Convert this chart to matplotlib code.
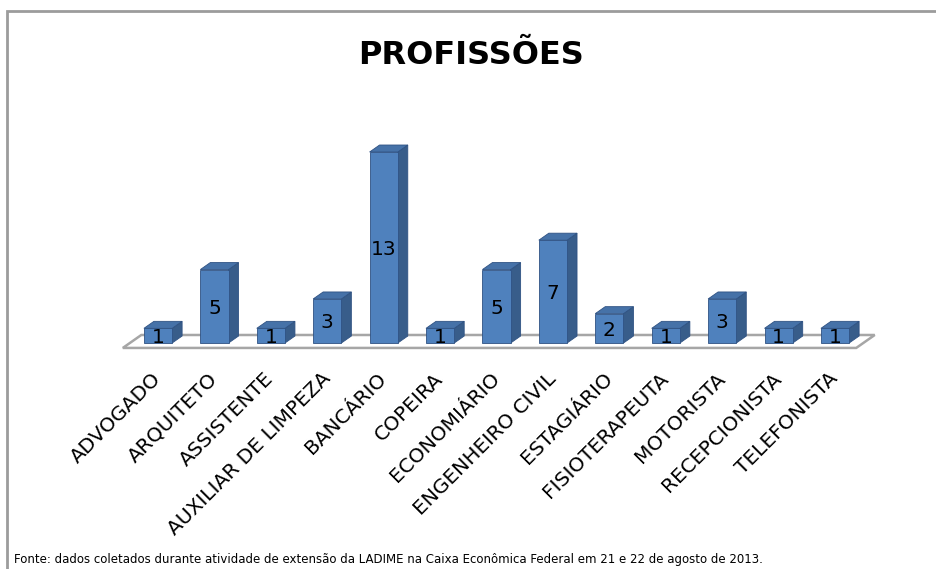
import numpy as np
import matplotlib.pyplot as plt
from matplotlib.patches import Polygon, Rectangle

plt.rcParams['font.family'] = ['DejaVu Sans']

# data
categorias = ['ADVOGADO', 'ARQUITETO', 'ASSISTENTE', 'AUXILIAR DE LIMPEZA',
              'BANCÁRIO', 'COPEIRA', 'ECONOMIÁRIO', 'ENGENHEIRO CIVIL',
              'ESTAGIÁRIO', 'FISIOTERAPEUTA', 'MOTORISTA', 'RECEPCIONISTA',
              'TELEFONISTA']
valores = [1, 5, 1, 3, 13, 1, 5, 7, 2, 1, 3, 1, 1]

titulo = 'PROFISSÕES'
fonte = ('Fonte: dados coletados durante atividade de extensão da LADIME na '
         'Caixa Econômica Federal em 21 e 22 de agosto de 2013.')

# fake 3d look
larg = 0.5
ddx, ddy = 0.177, 0.476
c_frente = '#4F81BD'
c_lado = '#385D8A'
c_topo = '#4672A8'
c_borda = '#2F5283'

fig = plt.figure(figsize=(9.36, 5.69), dpi=100)
ax = fig.add_axes([0.1206, 0.3713, 0.8318, 0.4003])
ax.set_xlim(-0.8, 13.0)
ax.set_ylim(-1, 14.5)

n = len(categorias)
x = np.arange(n)

# floor
f0, f1 = -0.7, 1.15
piso = Polygon([(-0.5 + f0 * ddx, f0 * ddy), (n - 0.5 + f0 * ddx, f0 * ddy),
                (n - 0.5 + f1 * ddx, f1 * ddy), (-0.5 + f1 * ddx, f1 * ddy)],
               closed=True, facecolor='white', edgecolor='#A6A6A6', lw=1.8,
               zorder=1)
ax.add_patch(piso)

ax.bar(x, valores, width=larg, color=c_frente, edgecolor=c_borda, lw=0.6,
       zorder=3)
for xi, v in zip(x, valores):
    d = xi + larg / 2
    e = xi - larg / 2
    lado = Polygon([(d, 0), (d + ddx, ddy), (d + ddx, v + ddy), (d, v)],
                   closed=True, facecolor=c_lado, edgecolor=c_borda, lw=0.6,
                   zorder=2)
    topo = Polygon([(e, v), (d, v), (d + ddx, v + ddy), (e + ddx, v + ddy)],
                   closed=True, facecolor=c_topo, edgecolor=c_borda, lw=0.6,
                   zorder=2)
    ax.add_patch(lado)
    ax.add_patch(topo)
    ax.text(xi, v / 2, str(v), ha='center', va='center_baseline',
            fontsize=14.5, color='black', zorder=4)

ax.set_xticks(x)
ax.set_xticklabels(categorias, rotation=45, ha='right', va='center',
                   rotation_mode='anchor', fontsize=14.5)
ax.tick_params(axis='x', length=0, pad=13)
ax.set_yticks([])
for s in ax.spines.values():
    s.set_visible(False)
ax.patch.set_alpha(0)

fig.text(471 / 936, 1 - 55 / 569, titulo, ha='center', va='center',
         fontsize=23, fontweight='bold')
fig.text(14 / 936, 1 - 560 / 569, fonte, ha='left', va='center', fontsize=8.5)

# outer frame (only top and left visible in the original crop)
fig.add_artist(Rectangle((7.5 / 936, -0.1), 1.2, 1.1 - 11.5 / 569,
                         transform=fig.transFigure, fill=False,
                         edgecolor='#9C9C9C', lw=2))

fig.savefig('out.png', dpi=100)
